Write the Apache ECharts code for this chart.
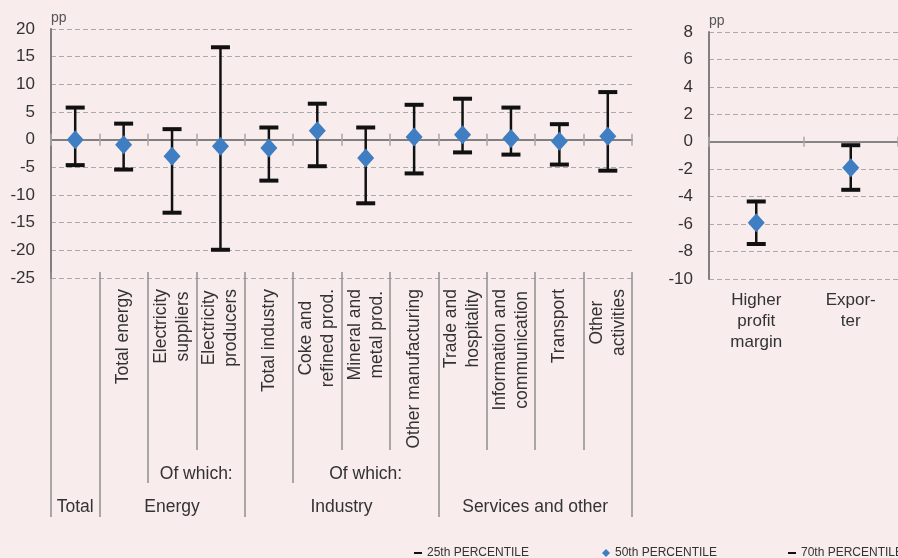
<!DOCTYPE html>
<html>
<head>
<meta charset="utf-8">
<script src="https://cdn.jsdelivr.net/npm/echarts@6/dist/echarts.min.js"></script>
<style>
  html, body { margin: 0; padding: 0; background: #F8ECED; }
  #chart { width: 898px; height: 558px; }
</style>
</head>
<body>
<div id="chart"></div>
<script>
// Sector breakdown (left panel), percentage points
const categories = ['Total', 'Total energy', 'Electricity\nsuppliers', 'Electricity\nproducers',
  'Total industry', 'Coke and\nrefined prod.', 'Mineral and\nmetal prod.', 'Other manufacturing',
  'Trade and\nhospitality', 'Information and\ncommunication', 'Transport', 'Other\nactivities'];
const p25 = [-4.6, -5.4, -13.2, -19.9, -7.4, -4.8, -11.5, -6.1, -2.3, -2.7, -4.5, -5.6];
const p50 = [0.0, -0.9, -3.0, -1.2, -1.5, 1.6, -3.3, 0.5, 0.9, 0.2, -0.3, 0.6];
const p70 = [5.8, 2.9, 1.9, 16.7, 2.2, 6.5, 2.2, 6.3, 7.4, 5.8, 2.8, 8.6];

// Sector groups along the bottom of the left panel
const groupNames = ['Total', 'Energy', 'Industry', 'Services and other'];
const groupSizes = [1, 3, 4, 4];
const subgroupLabel = 'Of which:';
const subgroupStarts = [2, 5];
const subgroupEnds = [4, 8];

// Firm characteristics (right panel), percentage points
const traits = ['Higher\nprofit\nmargin', 'Expor-\nter'];
const traitP25 = [-7.45, -3.5];
const traitP50 = [-5.9, -1.9];
const traitP70 = [-4.35, -0.25];

const seriesNames = ['25th PERCENTILE', '50th PERCENTILE', '70th PERCENTILE'];

const FONT = "'Liberation Sans', Arial, sans-serif";
const TEXT = '#333333';
const AXIS = '#808080';
const SEP = '#8E8E8E';
const TICK = '#A6A6A6';
const GRIDLINE = '#AAAAAA';
const BLUE = '#3F7EC2';

// Boundaries of the multi-level category axis
const groupStarts = [];
groupSizes.reduce((acc, n) => { groupStarts.push(acc); return acc + n; }, 0);
const groupEnds = groupStarts.map((s, i) => s + groupSizes[i]);
const level3 = Array.from(new Set([...groupStarts, ...groupEnds])).sort((a, b) => a - b);
const level2 = Array.from(new Set([...level3, ...subgroupStarts, ...subgroupEnds])).sort((a, b) => a - b);
const level1 = categories.map((c, i) => i).concat([categories.length]);

const groupPos = groupStarts.map((s, i) => (s + groupEnds[i]) / 2);
const subPos = subgroupStarts.map((s, i) => (s + subgroupEnds[i]) / 2);
const groupLabelAt = {};
groupPos.forEach((p, i) => { groupLabelAt[p.toFixed(2)] = groupNames[i]; });

function whisker(xAxisIndex, yAxisIndex, lo, hi) {
  return {
    type: 'custom', xAxisIndex, yAxisIndex, z: 1, silent: true,
    encode: { x: 0, y: [1, 2] },
    data: lo.map((v, i) => [i, v, hi[i]]),
    renderItem(params, api) {
      const a = api.coord([api.value(0), api.value(1)]);
      const b = api.coord([api.value(0), api.value(2)]);
      return { type: 'line', shape: { x1: a[0], y1: a[1], x2: b[0], y2: b[1] },
        style: { stroke: '#111', lineWidth: 2.5 } };
    }
  };
}
function points(name, xAxisIndex, yAxisIndex, vals, kind) {
  const isMid = kind === 'mid';
  return {
    type: 'scatter', name, xAxisIndex, yAxisIndex, silent: true,
    z: isMid ? 3 : 2,
    symbol: isMid ? 'diamond' : 'rect',
    symbolSize: isMid ? [17, 19] : [19, 4],
    itemStyle: { color: isMid ? BLUE : '#111', opacity: 1 },
    data: vals.map((v, i) => [i, v])
  };
}
// each line of a label is centred within the label block
function centredLines(v) {
  return v.split('\n').map(s => '{c|' + s + '}').join('\n');
}
function tickAxis(gridIndex, values, length, labelValues, margin) {
  return {
    gridIndex, type: 'value', min: 0, max: categories.length, position: 'bottom', offset: -6,
    axisLine: { show: false, onZero: false },
    splitLine: { show: false },
    axisTick: { show: true, customValues: values, length,
      lineStyle: { color: SEP, width: 1.5 } },
    axisLabel: labelValues ? {
      show: true, customValues: labelValues, margin, fontSize: 17.5, color: TEXT, fontFamily: FONT,
      formatter: v => labelValues === groupPos ? groupLabelAt[v.toFixed(2)] : subgroupLabel
    } : { show: false }
  };
}
// zero line; ticks cross it by drawing them both ways, each from its own value axis
function zeroAxis(gridIndex, data, inside, lineWidth, tickLen, onZeroAxisIndex) {
  return {
    gridIndex, type: 'category', data, position: 'bottom',
    axisLine: { show: true, onZero: true, onZeroAxisIndex,
      lineStyle: { color: AXIS, width: lineWidth } },
    axisTick: { show: true, inside, interval: 0, length: tickLen, lineStyle: { color: TICK, width: 1.5 } },
    axisLabel: { show: false }, splitLine: { show: false }
  };
}
function valueAxis(gridIndex, min, max, interval, visible) {
  if (!visible) {
    return { gridIndex, type: 'value', min, max, interval, show: false,
      axisLine: { onZero: false }, splitLine: { show: false } };
  }
  return {
    gridIndex, type: 'value', min, max, interval, position: 'left',
    name: 'pp', nameLocation: 'end', nameGap: 4,
    nameTextStyle: { fontSize: 14, color: '#555', align: 'left', verticalAlign: 'bottom', fontFamily: FONT },
    axisLine: { show: true, onZero: false, lineStyle: { color: AXIS, width: 2 } },
    axisTick: { show: false },
    axisLabel: { fontSize: 17, color: TEXT, margin: 16, fontFamily: FONT },
    splitLine: { show: true, lineStyle: { color: GRIDLINE, type: [5, 3], width: 1 } }
  };
}
function legendItem(name, icon, left, w, h) {
  return {
    data: [{ name, icon }], left, top: 542, itemWidth: w, itemHeight: h,
    selectedMode: false, textStyle: { fontSize: 12, color: TEXT, fontFamily: FONT }
  };
}

const chart = echarts.init(document.getElementById('chart'), null, { renderer: 'canvas' });

const option = {
  animation: false,
  backgroundColor: '#F8ECED',
  textStyle: { fontFamily: FONT },
  grid: [
    { left: 51, top: 29, width: 581, height: 249 },
    { left: 709, top: 32, width: 194, height: 247 }
  ],
  legend: [
    legendItem(seriesNames[0], 'rect', 409, 8, 2),
    legendItem(seriesNames[1], 'diamond', 597, 8, 8),
    legendItem(seriesNames[2], 'rect', 783, 8, 2)
  ],
  xAxis: [
    zeroAxis(0, categories, false, 2, 6, 0),
    zeroAxis(0, categories, true, 2, 6, 2),
    // rotated sector labels
    { gridIndex: 0, type: 'category', data: categories, position: 'bottom',
      axisLine: { show: false, onZero: false }, axisTick: { show: false },
      axisLabel: { show: true, interval: 0, rotate: 90, margin: 11,
        formatter: v => groupNames.includes(v) ? '' : centredLines(v),
        rich: { c: { fontSize: 17.5, lineHeight: 22, color: TEXT, fontFamily: FONT, align: 'center' } } },
      splitLine: { show: false } },
    // separators of the multi-level axis, with group labels
    tickAxis(0, level1, 178),
    tickAxis(0, level2, 211, subPos, 193),
    tickAxis(0, level3, 245, groupPos, 226),
    zeroAxis(1, traits, false, 1.5, 5, 1),
    zeroAxis(1, traits, true, 1.5, 5, 3),
    // trait labels
    { gridIndex: 1, type: 'category', data: traits, position: 'bottom',
      axisLine: { show: false, onZero: false }, axisTick: { show: false },
      axisLabel: { show: true, interval: 0, margin: 11,
        formatter: v => centredLines(v),
        rich: { c: { fontSize: 17, lineHeight: 21, color: TEXT, fontFamily: FONT, align: 'center' } } },
      splitLine: { show: false } }
  ],
  yAxis: [
    valueAxis(0, -25, 20, 5, true),
    valueAxis(1, -10, 8, 2, true),
    valueAxis(0, -25, 20, 5, false),
    valueAxis(1, -10, 8, 2, false)
  ],
  series: [
    whisker(0, 0, p25, p70),
    points(seriesNames[0], 0, 0, p25, 'cap'),
    points(seriesNames[1], 0, 0, p50, 'mid'),
    points(seriesNames[2], 0, 0, p70, 'cap'),
    whisker(6, 1, traitP25, traitP70),
    points(seriesNames[0], 6, 1, traitP25, 'cap'),
    points(seriesNames[1], 6, 1, traitP50, 'mid'),
    points(seriesNames[2], 6, 1, traitP70, 'cap')
  ]
};

chart.setOption(option);
</script>
</body>
</html>
